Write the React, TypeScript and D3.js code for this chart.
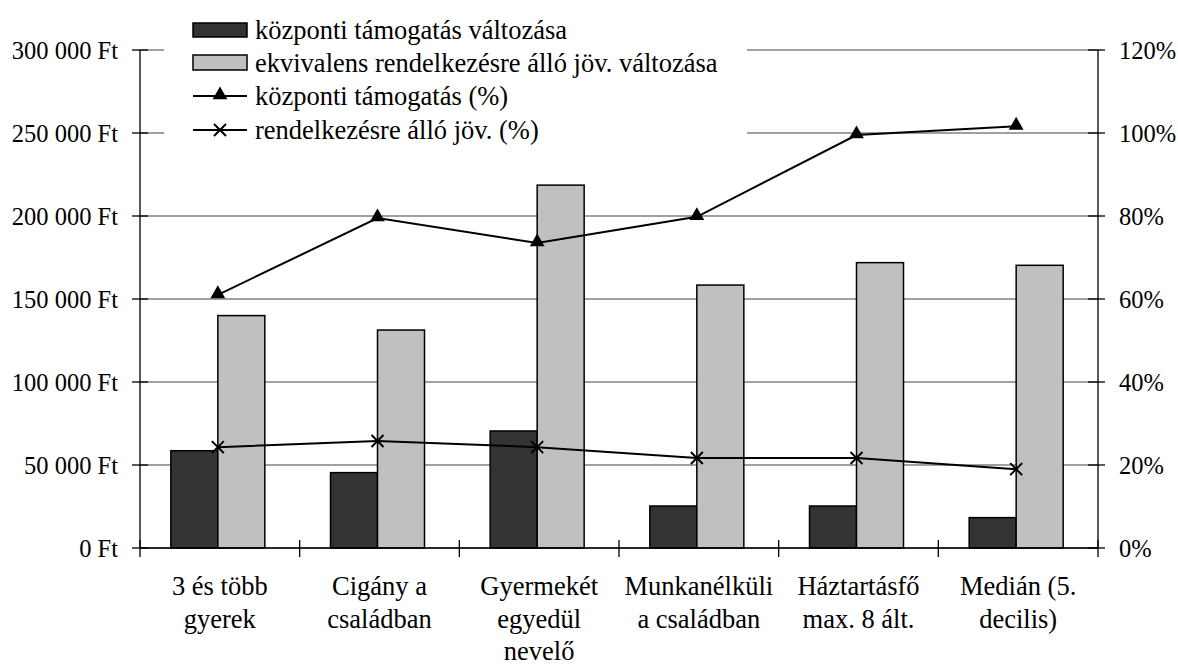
import React from "react";
import * as d3 from "d3";

const categories: string[][] = [
  ["3 és több", "gyerek"],
  ["Cigány a", "családban"],
  ["Gyermekét", "egyedül", "nevelő"],
  ["Munkanélküli", "a családban"],
  ["Háztartásfő", "max. 8 ált."],
  ["Medián (5.", "decilis)"],
];
const kozpontiValtozas = [58600, 45400, 70500, 25300, 25300, 18300];
const ekvivalensValtozas = [140000, 131300, 218600, 158400, 171900, 170300];
const kozpontiPct = [61.0, 79.5, 73.5, 79.8, 99.5, 101.6];
const rendelkezesrePct = [24.3, 25.8, 24.3, 21.7, 21.7, 19.0];
const leftTicks = [0, 50000, 100000, 150000, 200000, 250000, 300000];
const rightTicks = [0, 20, 40, 60, 80, 100, 120];
const legendLabels = [
  "központi támogatás változása",
  "ekvivalens rendelkezésre álló jöv. változása",
  "központi támogatás (%)",
  "rendelkezésre álló jöv. (%)",
];

const W = 1178;
const H = 666;
const X0 = 140;
const X1 = 1098;
const Y0 = 548;
const Y1 = 50;
const FONT = "Liberation Serif";
const ts = (size: number) => ({ fontFamily: FONT, fontSize: size + "px" });

const fmtFt = (v: number) =>
  (v === 0 ? "0" : d3.format(",")(v).replace(/,/g, " ")) + " Ft";

export default function App() {
  const idx = categories.map((_, i) => i);
  const x = d3.scaleBand<number>().domain(idx).range([X0, X1]).padding(0);
  const yL = d3.scaleLinear().domain([0, 300000]).range([Y0, Y1]);
  const yR = d3.scaleLinear().domain([0, 120]).range([Y0, Y1]);
  const bw = 47;
  const cx = (i: number) => (x(i) as number) + x.bandwidth() / 2 - 2;

  const line = d3
    .line<number>()
    .x((_, i) => cx(i))
    .y((d) => yR(d));

  const tri = d3.symbol().type(d3.symbolTriangle).size(95)() as string;
  const cross = (px: number, py: number, s = 6) =>
    `M${px - s},${py - s}L${px + s},${py + s}M${px - s},${py + s}L${px + s},${py - s}`;

  const legX = 193;
  const legW = 54;
  const legTextX = 255;
  const rows = [30, 63, 96, 130];

  return (
    <svg width={W} height={H} style={{ display: "block", position: "absolute", left: 0, top: 0 }}>
      <rect x={0} y={0} width={W} height={H} fill="#fff" />
      {leftTicks.map((t) => (
        <line key={"g" + t} x1={X0} x2={X1} y1={yL(t)} y2={yL(t)} stroke="#808080" strokeWidth={1.3} />
      ))}
      <rect x={164} y={8} width={583} height={140} fill="#fff" />
      {kozpontiValtozas.map((v, i) => (
        <rect key={"d" + i} x={cx(i) - bw} y={yL(v)} width={bw} height={Y0 - yL(v)} fill="#333333" stroke="#000" strokeWidth={1.5} />
      ))}
      {ekvivalensValtozas.map((v, i) => (
        <rect key={"l" + i} x={cx(i)} y={yL(v)} width={bw} height={Y0 - yL(v)} fill="#c0c0c0" stroke="#000" strokeWidth={1.5} />
      ))}
      <line x1={X0} x2={X0} y1={Y1} y2={Y0} stroke="#000" strokeWidth={1.3} />
      <line x1={X1} x2={X1} y1={Y1} y2={Y0} stroke="#000" strokeWidth={1.3} />
      <line x1={X0} x2={X1} y1={Y0} y2={Y0} stroke="#000" strokeWidth={1.3} />
      {leftTicks.map((t) => (
        <g key={"lt" + t}>
          <line x1={X0 - 8} x2={X0 + 8} y1={yL(t)} y2={yL(t)} stroke="#000" strokeWidth={1.3} />
          <text x={118} y={yL(t)} dy="0.35em" textAnchor="end" style={ts(24.5)}>{fmtFt(t)}</text>
        </g>
      ))}
      {rightTicks.map((t) => (
        <g key={"rt" + t}>
          <line x1={X1 - 10} x2={X1 + 7} y1={yR(t)} y2={yR(t)} stroke="#000" strokeWidth={1.3} />
          <text x={1119} y={yR(t)} dy="0.35em" textAnchor="start" style={ts(24.5)}>{t + "%"}</text>
        </g>
      ))}
      {d3.range(categories.length + 1).map((i) => {
        const xx = X0 + i * x.bandwidth();
        return <line key={"ct" + i} x1={xx} x2={xx} y1={Y0 - 8} y2={Y0 + 9} stroke="#000" strokeWidth={1.3} />;
      })}
      {categories.map((lines, i) => (
        <text key={"c" + i} x={(x(i) as number) + x.bandwidth() / 2} textAnchor="middle" style={ts(26.5)}>
          {lines.map((l, j) => (
            <tspan key={j} x={(x(i) as number) + x.bandwidth() / 2} y={595 + j * 32.5}>{l}</tspan>
          ))}
        </text>
      ))}
      <path d={line(kozpontiPct) as string} fill="none" stroke="#000" strokeWidth={2} />
      {kozpontiPct.map((v, i) => (
        <path key={"tm" + i} d={tri} transform={`translate(${cx(i)},${yR(v) - 1})`} fill="#000" />
      ))}
      <path d={line(rendelkezesrePct) as string} fill="none" stroke="#000" strokeWidth={2} />
      {rendelkezesrePct.map((v, i) => (
        <path key={"xm" + i} d={cross(cx(i), yR(v))} stroke="#000" strokeWidth={2} fill="none" />
      ))}
      <rect x={legX} y={23} width={legW} height={14} fill="#333333" stroke="#000" strokeWidth={1.5} />
      <rect x={legX} y={55} width={legW} height={15} fill="#c0c0c0" stroke="#000" strokeWidth={1.5} />
      <line x1={legX} x2={legX + legW} y1={rows[2]} y2={rows[2]} stroke="#000" strokeWidth={2} />
      <path d={tri} transform={`translate(${legX + legW / 2},${rows[2] - 1})`} fill="#000" />
      <line x1={legX} x2={legX + legW} y1={rows[3]} y2={rows[3]} stroke="#000" strokeWidth={2} />
      <path d={cross(legX + legW / 2, rows[3])} stroke="#000" strokeWidth={2} fill="none" />
      {legendLabels.map((l, i) => (
        <text key={"ll" + i} x={legTextX} y={rows[i]} dy="0.35em" style={ts(26.5)}>{l}</text>
      ))}
    </svg>
  );
}
